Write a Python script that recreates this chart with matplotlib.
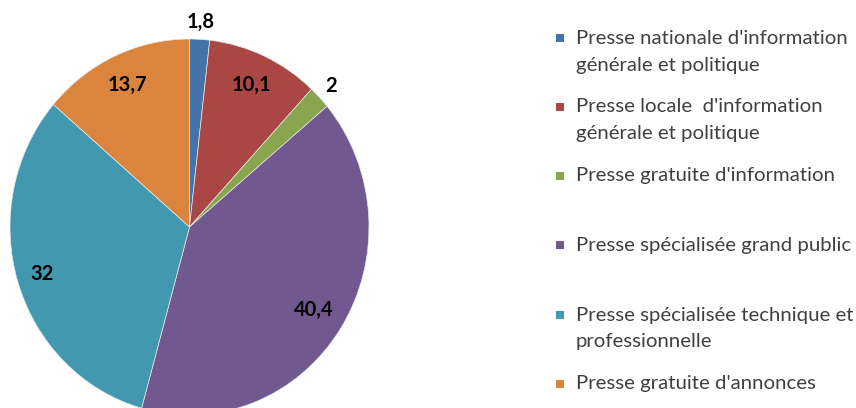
import matplotlib
matplotlib.use("Agg")
import matplotlib.pyplot as plt
from matplotlib.patches import Rectangle
import numpy as np

plt.rcParams["font.family"] = ["Lato", "DejaVu Sans"]

categories = [
    "Presse nationale d'information\ngénérale et politique",
    "Presse locale  d'information\ngénérale et politique",
    "Presse gratuite d'information",
    "Presse spécialisée grand public",
    "Presse spécialisée technique et\nprofessionnelle",
    "Presse gratuite d'annonces",
]
values = [1.8, 10.1, 2, 40.4, 32, 13.7]
value_labels = ["1,8", "10,1", "2", "40,4", "32", "13,7"]
colors = ["#4572A7", "#AA4643", "#89A54E", "#71588F", "#4198AF", "#DB843D"]

W, H = 856, 408
fig = plt.figure(figsize=(W / 100, H / 100), dpi=100)

# pie area in pixels: x 10..369, y 39..415 (bottom cut by the frame)
ax = fig.add_axes([10 / W, (H - 415) / H, 359 / W, 376 / H])
wedges, _ = ax.pie(values, colors=colors, startangle=90, counterclock=False,
                   wedgeprops=dict(linewidth=0.5, edgecolor="#e8e8e8"))
ax.set_aspect("auto")
ax.set_xlim(-1, 1)
ax.set_ylim(-1, 1)
ax.axis("off")

label_dist = [1.09, 0.83, 1.09, 0.82, 0.86, 0.83]
for w, txt, d in zip(wedges, value_labels, label_dist):
    th = np.deg2rad((w.theta1 + w.theta2) / 2)
    ax.text(d * np.cos(th), d * np.sin(th), txt, ha="center", va="center",
            fontsize=14.5, fontweight="bold", color="black")

# legend, equally spaced rows like the Excel one
row_y = [38, 107, 176, 245, 315, 384]
line_h = 27
for cat, col, y in zip(categories, colors, row_y):
    fig.add_artist(Rectangle((556 / W, (H - y - 4) / H), 8 / W, 8 / H,
                             transform=fig.transFigure, color=col, lw=0))
    for i, line in enumerate(cat.split("\n")):
        fig.text(576 / W, (H - y - i * line_h) / H, line, ha="left",
                 va="center", fontsize=14.7, color="#404040")

fig.savefig("out.png", dpi=100)
